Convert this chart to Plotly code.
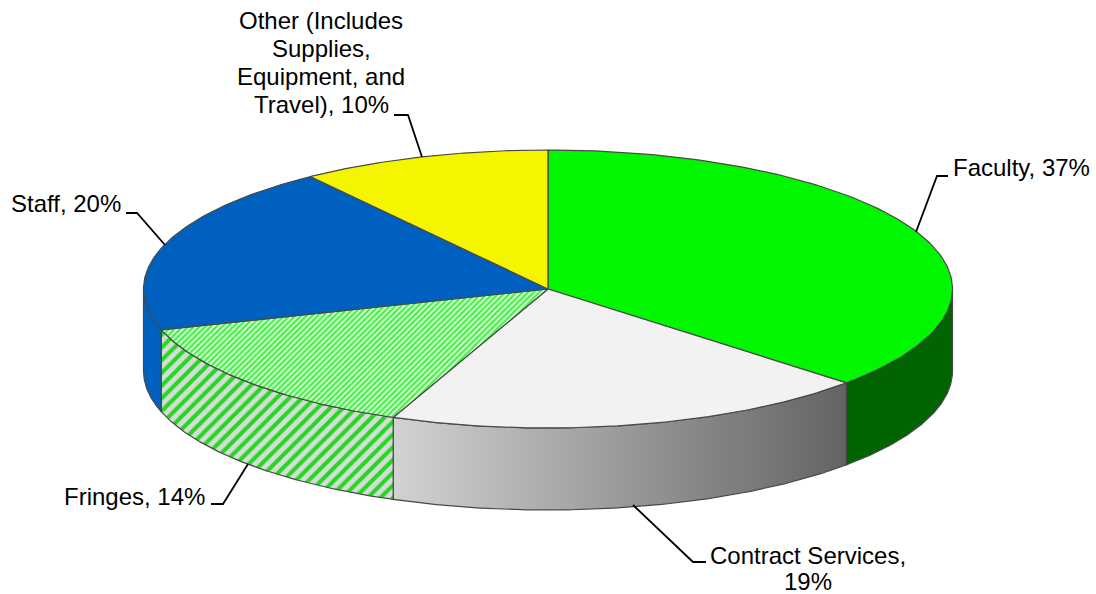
import numpy as np
import plotly.graph_objects as go

# Data (clockwise from 12 o'clock)
categories = ["Faculty", "Contract Services", "Fringes", "Staff", "Other"]
values = [36.8, 19.45, 14.0, 19.75, 10.0]

# Style
top_colors = {"Faculty": "#00F700", "Contract Services": "#F2F2F2", "Staff": "#0060BF", "Other": "#F5F500"}
side_colors = {"Faculty": "#006400", "Staff": "#0060BF"}
OUTLINE = "#484848"
FONT = "Liberation Sans"
FS = 24

# Pie geometry (axis units = pixels)
CX, CY, RX, RY, DEPTH = 548.0, 289.0, 404.5, 139.0, 82.0


def rim(a0, a1, n=120):
    t = np.radians(np.linspace(a0, a1, n))
    return CX + RX * np.sin(t), CY - RY * np.cos(t)


edges = np.concatenate([[0], np.cumsum(values)]) / sum(values) * 360
spans = {c: (edges[i], edges[i + 1]) for i, c in enumerate(categories)}

fig = go.Figure()


def add_side(name, **style):
    a0, a1 = spans[name]
    a0, a1 = max(a0, 90), min(a1, 270)
    x, y = rim(a0, a1)
    fig.add_trace(go.Scatter(
        x=np.concatenate([x, x[::-1], x[:1]]),
        y=np.concatenate([y, y[::-1] + DEPTH, y[:1]]),
        mode="lines", fill="toself", line=dict(color=OUTLINE, width=1.2),
        hoverinfo="skip", showlegend=False, **style))


def add_top(name, **style):
    a0, a1 = spans[name]
    x, y = rim(a0, a1)
    fig.add_trace(go.Scatter(
        x=np.concatenate([[CX], x, [CX]]),
        y=np.concatenate([[CY], y, [CY]]),
        mode="lines", fill="toself", line=dict(color=OUTLINE, width=1.2),
        name=name, hoverinfo="name", showlegend=False, **style))


add_side("Staff", fillcolor=side_colors["Staff"])
add_side("Faculty", fillcolor=side_colors["Faculty"])
add_side("Contract Services",
         fillgradient=dict(type="horizontal",
                           colorscale=[[0, "#D2D2D2"], [1, "#636363"]]))
add_side("Fringes",
         fillpattern=dict(shape="/", size=9, solidity=0.45,
                          fgcolor="#22D822", bgcolor="#D8DCD8", fgopacity=1),
         fillcolor="#D8DCD8")

add_top("Faculty", fillcolor=top_colors["Faculty"])
add_top("Contract Services", fillcolor=top_colors["Contract Services"])
add_top("Fringes",
        fillpattern=dict(shape="/", size=4, solidity=0.5,
                         fgcolor="#3CF03C", bgcolor="#D8FFD8", fgopacity=1),
        fillcolor="#D8FFD8")
add_top("Staff", fillcolor=top_colors["Staff"])
add_top("Other", fillcolor=top_colors["Other"])

# Leader lines
leaders = [
    ([916, 937, 948], [232, 176, 176]),
    ([422, 408, 394], [157, 115, 115]),
    ([165, 137, 126], [245, 213, 213]),
    ([248, 223, 211], [464, 504, 504]),
    ([633, 693, 706], [505, 562, 562]),
]
for lx, ly in leaders:
    fig.add_trace(go.Scatter(x=lx, y=ly, mode="lines", line=dict(color="black", width=1.8),
                             hoverinfo="skip", showlegend=False))

# Labels, one entry per text line
labels = [
    ("Faculty, 37%", 953, 167, "left"),
    ("Staff, 20%", 11, 203, "left"),
    ("Fringes, 14%", 64, 496, "left"),
    ("Contract Services,", 808, 555, "center"),
    ("19%", 808, 581, "center"),
    ("Other (Includes", 321, 20, "center"),
    ("Supplies,", 321, 48, "center"),
    ("Equipment, and", 321, 76, "center"),
    ("Travel), 10%", 321, 104, "center"),
]
for text, x, y, anchor in labels:
    fig.add_annotation(text=text, x=x, y=y, xref="x", yref="y", showarrow=False,
                       xanchor=anchor, yanchor="middle",
                       font=dict(family=FONT, size=FS, color="black"),
                       borderpad=0, borderwidth=0)

fig.update_layout(
    width=1096, height=594, margin=dict(l=0, r=0, t=0, b=0),
    paper_bgcolor="white", plot_bgcolor="white",
    xaxis=dict(range=[0, 1096], visible=False, fixedrange=True),
    yaxis=dict(range=[594, 0], visible=False, fixedrange=True),
)
fig.write_html("out.html", config={"displayModeBar": False},
               post_script="document.body.style.margin='0';")
